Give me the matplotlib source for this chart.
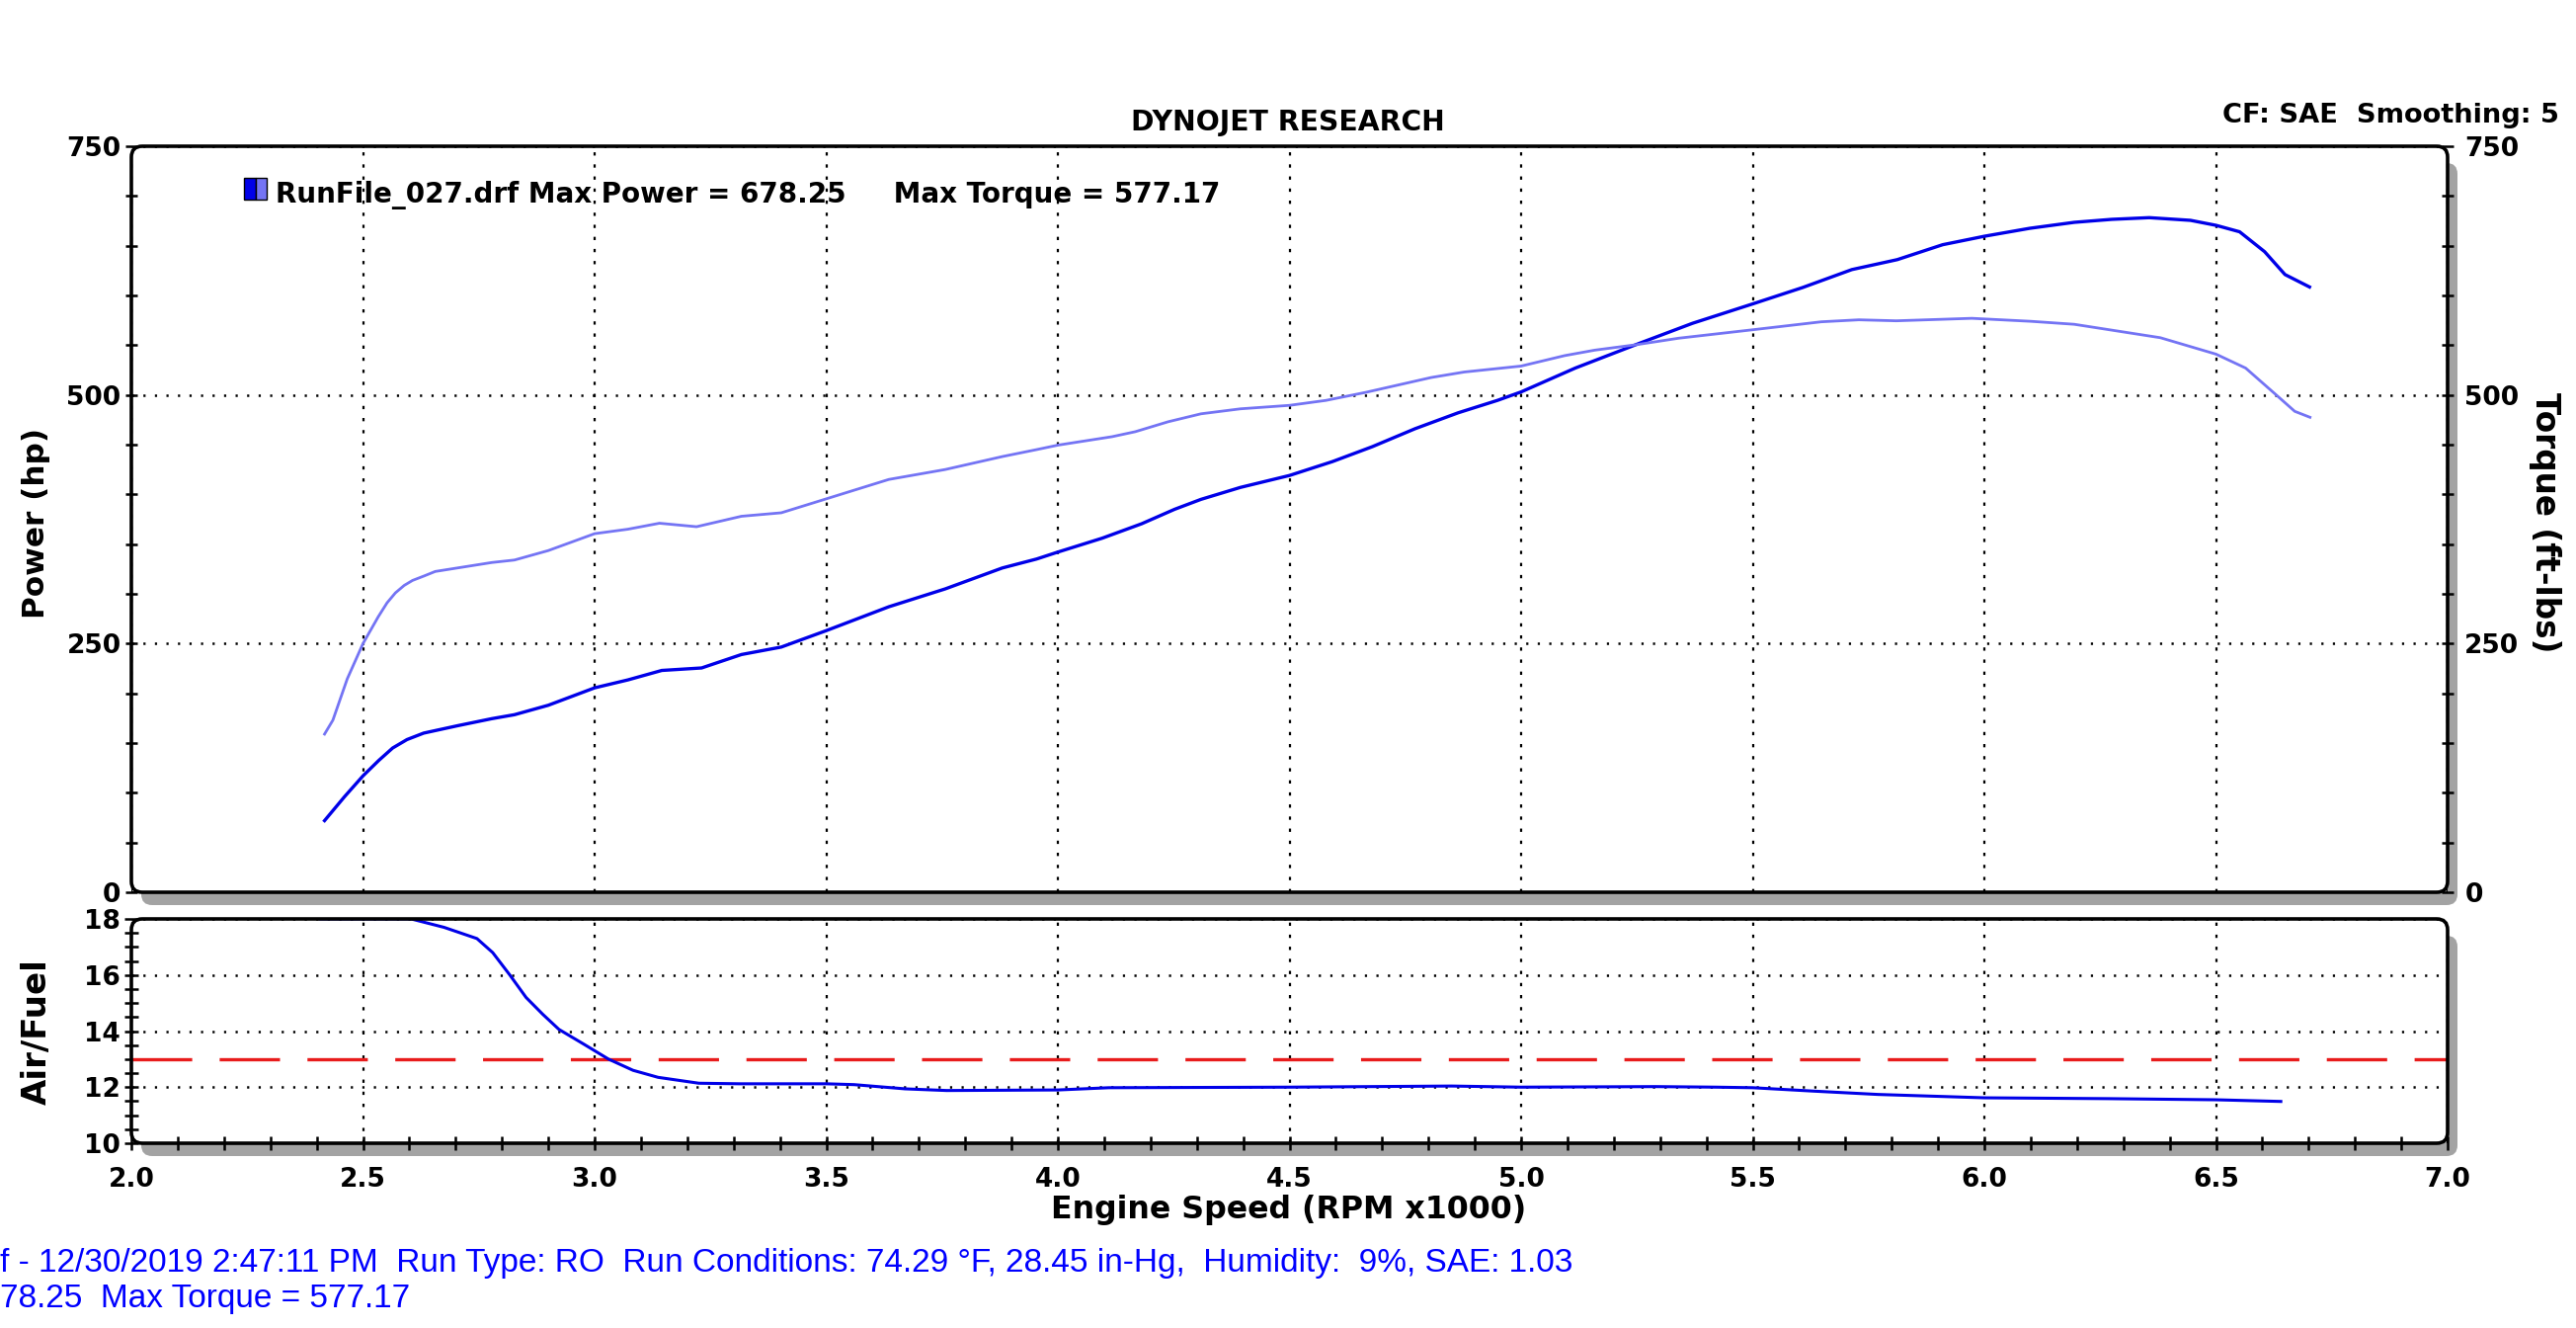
import numpy as np
import matplotlib
matplotlib.use("Agg")
import matplotlib.pyplot as plt
from matplotlib.patches import FancyBboxPatch, Rectangle
from matplotlib.ticker import MultipleLocator, FormatStrFormatter

# values
rpm_power = [2.417, 2.46, 2.50, 2.534, 2.564, 2.595, 2.631, 2.705, 2.778, 2.827, 2.90, 3.00,
             3.072, 3.145, 3.231, 3.317, 3.403, 3.50, 3.635, 3.757, 3.88, 3.954, 4.00, 4.096,
             4.181, 4.252, 4.309, 4.394, 4.50, 4.593, 4.679, 4.771, 4.864, 4.949, 5.00, 5.117,
             5.256, 5.37, 5.50, 5.608, 5.714, 5.812, 5.91, 6.00, 6.098, 6.194, 6.275, 6.356,
             6.445, 6.50, 6.551, 6.605, 6.649, 6.702]
power_hp = [72, 96, 117, 132.5, 145, 153.5, 160, 167.5, 174.5, 178.5, 188, 205.5,
            213.5, 223, 225.5, 239, 246.5, 263, 287, 305, 326, 335, 342, 356,
            370.5, 385, 395, 407, 419, 433, 448, 466, 482, 494.5, 503, 527,
            552, 572, 591.5, 608, 626, 636, 651, 659.5, 667.5, 673.5, 676.5, 678.2,
            675.5, 670.5, 664, 644, 621, 608.5]

rpm_torque = [2.417, 2.435, 2.466, 2.50, 2.533, 2.552, 2.57, 2.589, 2.607, 2.632, 2.656, 2.717,
              2.778, 2.827, 2.90, 3.00, 3.072, 3.14, 3.22, 3.317, 3.403, 3.50, 3.635, 3.757,
              3.88, 3.954, 4.00, 4.117, 4.167, 4.238, 4.309, 4.394, 4.50, 4.579, 4.664, 4.806,
              4.877, 5.00, 5.094, 5.159, 5.249, 5.34, 5.50, 5.648, 5.729, 5.81, 5.973, 6.10,
              6.194, 6.38, 6.50, 6.564, 6.63, 6.67, 6.703]
torque_ftlb = [159, 173, 214.5, 250, 277, 291, 301, 308.5, 313.5, 318, 322.5, 327,
               331.5, 334, 343.5, 360.5, 365, 371, 367.5, 378, 381.5, 395.5, 415, 425,
               438, 445, 449.5, 458, 463, 473, 481, 486, 489.5, 494.5, 502.5, 517.5,
               523, 529, 539.5, 545, 550.5, 557, 565.5, 573.5, 575.5, 574.5, 577, 574,
               571, 557.5, 541, 527, 500, 483.5, 477.5]

rpm_afr = [2.408, 2.604, 2.675, 2.746, 2.78, 2.817, 2.852, 2.888, 2.923, 2.977, 3.03, 3.083,
           3.137, 3.225, 3.314, 3.50, 3.56, 3.67, 3.76, 4.00, 4.11, 4.50, 4.85, 5.00,
           5.29, 5.42, 5.50, 5.63, 5.77, 6.00, 6.268, 6.50, 6.64]
afr = [18, 18, 17.7, 17.3, 16.8, 16.0, 15.2, 14.6, 14.06, 13.53, 13.0, 12.6,
       12.35, 12.14, 12.12, 12.12, 12.09, 11.94, 11.88, 11.9, 11.98, 12.0, 12.04, 12.0,
       12.02, 12.0, 11.98, 11.86, 11.74, 11.62, 11.59, 11.55, 11.49]
afr_target = 13.0

run_label = "RunFile_027.drf Max Power = 678.25     Max Torque = 577.17"
info_line1 = "f - 12/30/2019 2:47:11 PM  Run Type: RO  Run Conditions: 74.29 \u00b0F, 28.45 in-Hg,  Humidity:  9%, SAE: 1.03"
info_line2 = "78.25  Max Torque = 577.17"

plt.rcParams['font.family'] = 'DejaVu Sans'
plt.rcParams['font.weight'] = 'bold'
plt.rcParams['lines.scale_dashes'] = False

DARK = '#0000e8'
LIGHT = '#7474f4'
FS = 19

fig = plt.figure(figsize=(26.08, 13.44), dpi=100)
W, H = 2608, 1344

def frame(x0, y0, x1, y1):
    # pixel box -> rounded frame with grey drop shadow (figure inches)
    bx, by = x0 / 100, (H - y1) / 100
    bw, bh = (x1 - x0) / 100, (y1 - y0) / 100
    style = "round,pad=0,rounding_size=0.11"
    fig.add_artist(FancyBboxPatch((bx + 0.10, by - 0.13), bw, bh - 0.04, boxstyle=style,
                                  transform=fig.dpi_scale_trans, fc='#a3a3a3', ec='none', zorder=-3))
    fig.add_artist(FancyBboxPatch((bx, by), bw, bh, boxstyle=style,
                                  transform=fig.dpi_scale_trans, fc='white', ec='none', zorder=-2))
    fig.add_artist(FancyBboxPatch((bx, by), bw, bh, boxstyle=style,
                                  transform=fig.dpi_scale_trans, fc='none', ec='black', lw=2.6, zorder=10))
    return fig.add_axes([x0 / W, 1 - y1 / H, (x1 - x0) / W, (y1 - y0) / H])

L, R = 133, 2478
ax = frame(L, 148, R, 903)
ax_afr = frame(L, 930, R, 1157)

grid_v = dict(color='black', lw=1.6, linestyle=(0, (2.4, 6.4)))
grid_h = dict(color='black', lw=1.8, linestyle=(0, (1.6, 6.8)))

for a in (ax, ax_afr):
    a.patch.set_visible(False)
    for s in a.spines.values():
        s.set_visible(False)
    a.set_xlim(2.0, 7.0)
    a.xaxis.set_major_locator(MultipleLocator(0.5))
    a.grid(axis='x', which='major', **grid_v)
    a.grid(axis='y', which='major', **grid_h)
    a.set_axisbelow(True)

# power / torque panel
ax.set_ylim(0, 750)
ax.yaxis.set_major_locator(MultipleLocator(250))
ax.yaxis.set_minor_locator(MultipleLocator(50))
ax.tick_params(axis='x', which='both', bottom=False, labelbottom=False)
ax.tick_params(axis='y', which='both', direction='inout', length=9, width=1.8, labelsize=FS, pad=3)
ax.plot(rpm_power, power_hp, color=DARK, lw=2.4, zorder=3)

ax_t = ax.twinx()
ax_t.patch.set_visible(False)
for s in ax_t.spines.values():
    s.set_visible(False)
ax_t.set_ylim(0, 750)
ax_t.yaxis.set_major_locator(MultipleLocator(250))
ax_t.yaxis.set_minor_locator(MultipleLocator(50))
ax_t.tick_params(axis='y', which='both', direction='inout', length=9, width=1.8, labelsize=FS, pad=8)
ax_t.plot(rpm_torque, torque_ftlb, color=LIGHT, lw=2.0, zorder=3)

# air/fuel panel
ax_afr.set_ylim(10, 18)
ax_afr.yaxis.set_major_locator(MultipleLocator(2))
ax_afr.yaxis.set_minor_locator(MultipleLocator(0.5))
ax_afr.xaxis.set_minor_locator(MultipleLocator(0.1))
ax_afr.tick_params(axis='both', which='both', direction='inout', length=10, width=1.8, labelsize=FS)
ax_afr.tick_params(axis='y', pad=3)
ax_afr.tick_params(axis='x', pad=12)
ax_afr.xaxis.set_major_formatter(FormatStrFormatter('%.1f'))
ax_afr.axhline(afr_target, color='#e81c1c', lw=2.4, linestyle=(0, (44, 20)), zorder=2)
ax_afr.plot(rpm_afr, afr, color=DARK, lw=2.2, zorder=3)

# texts
fig.text(1304 / W, 1 - 124 / H, "DYNOJET RESEARCH", ha='center', va='center', fontsize=20.3)
fig.text(2591 / W, 1 - 117 / H, "CF: SAE  Smoothing: 5", ha='right', va='center', fontsize=19.6)
fig.add_artist(Rectangle((2.47, 11.42), 0.115, 0.22, transform=fig.dpi_scale_trans,
                         fc=DARK, ec='black', lw=1.0, zorder=11))
fig.add_artist(Rectangle((2.585, 11.42), 0.115, 0.22, transform=fig.dpi_scale_trans,
                         fc=LIGHT, ec='black', lw=1.0, zorder=11))
fig.text(279 / W, 1 - 197 / H, run_label, ha='left', va='center', fontsize=20, zorder=12)

fig.text(37 / W, 1 - 530 / H, "Power (hp)", rotation=90, ha='center', va='center', fontsize=22.4)
fig.text(2576 / W, 1 - 529 / H, "Torque (ft-lbs)", rotation=270, ha='center', va='center', fontsize=23.5)
fig.text(37 / W, 1 - 1044 / H, "Air/Fuel", rotation=90, ha='center', va='center', fontsize=24.5)
fig.text(1305 / W, 1 - 1225 / H, "Engine Speed (RPM x1000)", ha='center', va='center', fontsize=22.8)

fig.text(0, 1 - 1278 / H, info_line1, ha='left', va='center', fontsize=24, color='#0000ff',
         family='Liberation Sans', fontweight='normal')
fig.text(0, 1 - 1314 / H, info_line2, ha='left', va='center', fontsize=24, color='#0000ff',
         family='Liberation Sans', fontweight='normal')

fig.savefig("out.png", dpi=100, facecolor='white')
